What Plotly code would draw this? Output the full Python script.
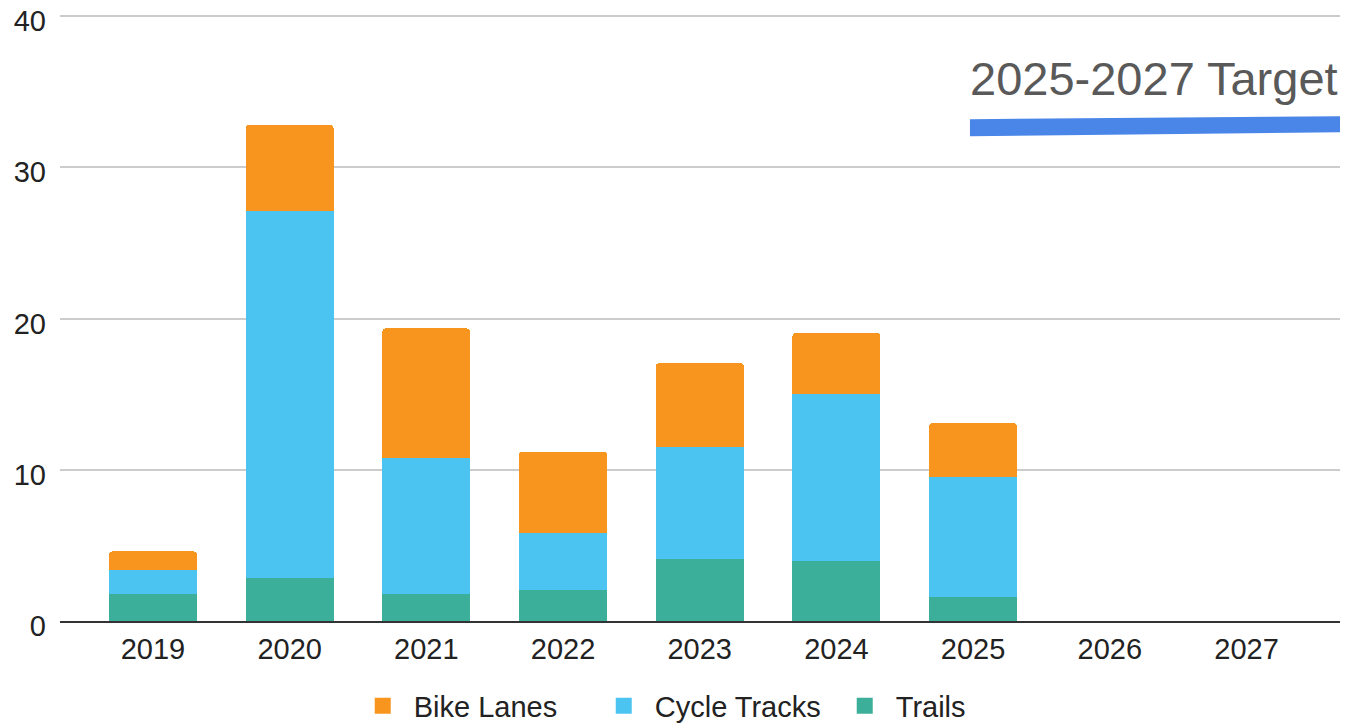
import plotly.graph_objects as go

years = ["2019", "2020", "2021", "2022", "2023", "2024", "2025", "2026", "2027"]
trails = [1.8, 2.85, 1.8, 2.05, 4.1, 4.0, 1.6, None, None]
cycle_tracks = [1.55, 24.25, 8.95, 3.8, 7.4, 11.0, 7.9, None, None]
bike_lanes = [1.25, 5.7, 8.6, 5.35, 5.55, 4.05, 3.6, None, None]
y_ticks = [0, 10, 20, 30, 40]

series = [
    ("Bike Lanes", bike_lanes, "#F7951F"),
    ("Cycle Tracks", cycle_tracks, "#4CC4F1"),
    ("Trails", trails, "#3CAF9A"),
]

fig = go.Figure()
# stack order: Trails at bottom, then Cycle Tracks, then Bike Lanes
for name, vals, color in reversed(series):
    fig.add_trace(go.Bar(x=years, y=vals, name=name, marker_color=color,
                         marker_line_width=0, legendgroup=name,
                         showlegend=False))
# legend entries (larger square swatches)
for i, (name, vals, color) in enumerate(series):
    fig.add_trace(go.Scatter(x=[None], y=[None], mode="markers", name=name,
                             legendgroup=name, legendrank=i + 1,
                             marker=dict(symbol="square", size=30, color=color)))

FONT = "Liberation Sans, Arial, sans-serif"

fig.update_layout(
    width=1348, height=724,
    barmode="stack", bargap=0.356, barcornerradius=4,
    plot_bgcolor="white", paper_bgcolor="white",
    margin=dict(l=52, r=16, t=7, b=111, autoexpand=False),
    font=dict(family=FONT, size=29, color="#222222"),
    showlegend=True,
    legend=dict(orientation="h", traceorder="normal",
                xref="container", yref="container",
                x=0.255, xanchor="left", y=0.036, yanchor="middle",
                entrywidth=174, itemwidth=52,
                font=dict(size=29, color="#222222")),
    xaxis=dict(type="category", categoryorder="array", categoryarray=years,
               range=[-0.68, 8.684], showgrid=False, automargin=False,
               showline=True, linecolor="#333333", linewidth=2,
               ticks="", ticklabelstandoff=1,
               tickfont=dict(size=29, color="#222222")),
    yaxis=dict(range=[0, 40.07], tickvals=y_ticks,
               showgrid=True, gridcolor="#CCCCCC", gridwidth=2,
               zeroline=False, ticks="", ticklabelstandoff=13, automargin=False,
               ticklabeloverflow="allow", ticklabelshift=5,
               tickfont=dict(size=29, color="#222222")),
    annotations=[dict(text="2025-2027 Target", xref="paper", yref="paper",
                      x=0.855, y=0.896, xanchor="center", yanchor="middle",
                      showarrow=False,
                      font=dict(size=47, color="#595959", family=FONT))],
    shapes=[dict(type="path", xref="paper", yref="paper",
                 path="M 0.7109 0.828 L 1.0023 0.833 L 1.0023 0.8066 L 0.7109 0.800 Z",
                 fillcolor="#4A86E8", line=dict(width=0))],
)

fig.write_html("out.html")
